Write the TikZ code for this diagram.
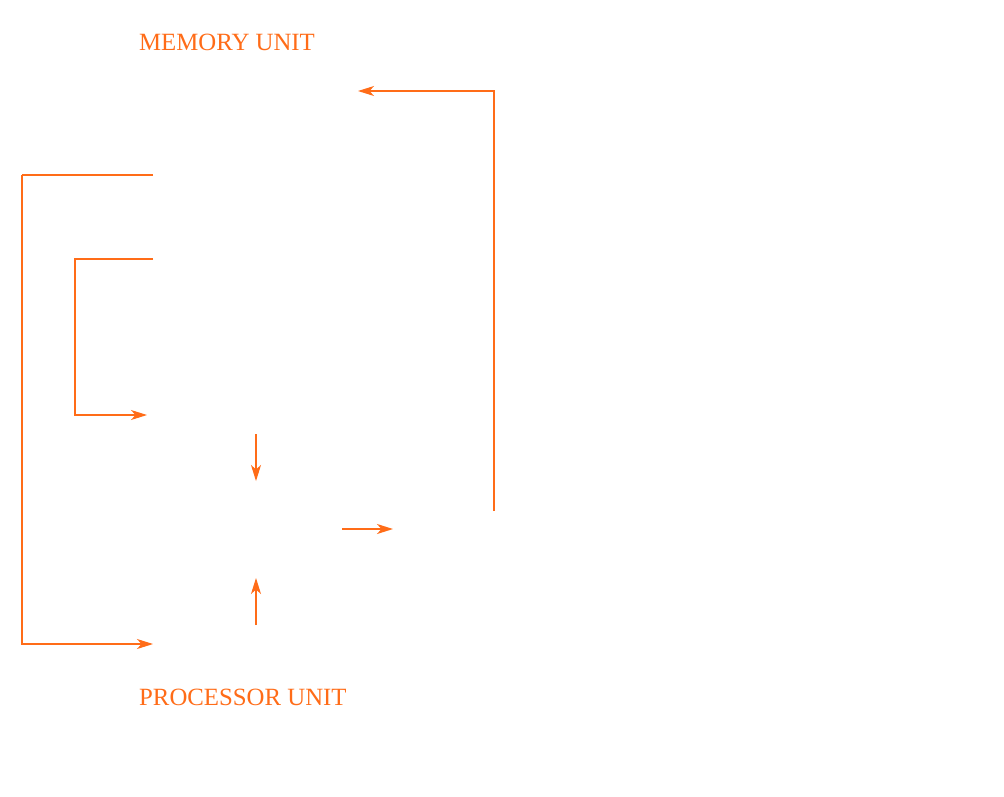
\documentclass[tikz,border=0pt]{standalone}
\usepackage{fontspec}
\setmainfont{Liberation Serif}
\usetikzlibrary{arrows.meta}
\definecolor{orng}{RGB}{255,108,24}
\tikzset{
  conn/.style={draw=orng, line width=1.1pt},
  thick conn/.style={draw=orng, line width=2pt},
  arr/.style={-{Stealth[length=16pt,width=10pt,inset=4.5pt]}},
  lbl/.style={text=orng, font=\fontsize{24.8}{29}\selectfont, inner sep=0pt, anchor=base west}
}
\begin{document}
\begin{tikzpicture}[x=1pt,y=1pt]
\useasboundingbox[fill=white] (0,0) rectangle (1004,-796);
% labels
\node[lbl] (mem) at (139,-50) {MEMORY UNIT};
\node[lbl] (proc) at (139,-705) {PROCESSOR UNIT};
% end points
\coordinate (fbS) at (494,-511);
\coordinate (fbC) at (494,-91);
\coordinate (fbE) at (358,-91);
\coordinate (oS) at (153,-175);
\coordinate (oC1) at (22,-175);
\coordinate (oC2) at (22,-644);
\coordinate (oE) at (153,-644);
\coordinate (iS) at (153,-259);
\coordinate (iC1) at (75,-259);
\coordinate (iC2) at (75,-415);
\coordinate (iE) at (147,-415);
\coordinate (dS) at (256,-434);
\coordinate (dE) at (256,-481);
\coordinate (uS) at (256,-625);
\coordinate (uE) at (256,-578);
\coordinate (rS) at (342,-529);
\coordinate (rE) at (393,-529);
% connectors
\draw[conn,arr] (fbS) -- (fbC) -- (fbE);
\draw[thick conn] (oS) -- (oC1);
\draw[conn,arr] (oC1) -- (oC2) -- (oE);
\draw[conn,arr] (iS) -- (iC1) -- (iC2) -- (iE);
\draw[conn,arr] (dS) -- (dE);
\draw[conn,arr] (uS) -- (uE);
\draw[thick conn,arr] (rS) -- (rE);
\end{tikzpicture}
\end{document}
